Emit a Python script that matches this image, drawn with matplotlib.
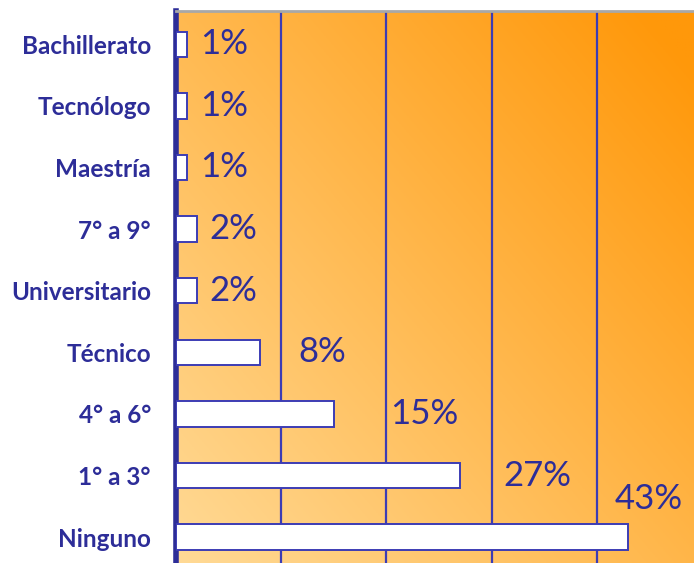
import numpy as np
import matplotlib
matplotlib.use('Agg')
import matplotlib.pyplot as plt

categories = ['Ninguno', '1° a 3°', '4° a 6°', 'Técnico', 'Universitario',
              '7° a 9°', 'Maestría', 'Tecnólogo', 'Bachillerato']
values = [43, 27, 15, 8, 2, 2, 1, 1, 1]
value_labels = ['43%', '27%', '15%', '8%', '2%', '2%', '1%', '1%', '1%']

# label placement (offset from bar end in %, vertical shift in rows)
label_dx = [-1.3, 4.1, 5.4, 3.6, 1.2, 1.2, 1.3, 1.3, 1.3]
label_dy = [0.62, 0, 0, 0, 0, 0, 0, 0, 0]

navy = '#2d2d98'
grid_navy = '#3c3cb4'

fig = plt.figure(figsize=(6.94, 5.63), dpi=100)
ax = fig.add_axes([176 / 694, 0, 518 / 694, 552 / 563])

# diagonal gradient background: light at bottom-left, orange at top-right
nx, ny = 200, 200
gx, gy = np.meshgrid(np.linspace(0, 1, nx), np.linspace(0, 1, ny))
t = np.clip((gx * 0.55 + gy * 0.5), 0, 1)
light = np.array([255, 218, 150]) / 255
dark = np.array([255, 152, 10]) / 255
img = light[None, None, :] * (1 - t[..., None]) + dark[None, None, :] * t[..., None]
ax.imshow(img, extent=[0, 1, 0, 1], transform=ax.transAxes, origin='lower',
          aspect='auto', zorder=0)

y = np.arange(len(categories))
ax.barh(y, values, height=0.41, color='white', edgecolor=grid_navy,
        linewidth=1.4, zorder=3)

for i, (v, lab) in enumerate(zip(values, value_labels)):
    ax.text(v + label_dx[i], y[i] + label_dy[i], lab, va='center', ha='left',
            color=navy, fontsize=25, family='Lato', zorder=4)

ax.set_xlim(0, 49.24)
ax.set_ylim(-0.42, 8.54)
ax.set_xticks([10, 20, 30, 40])
ax.set_xticklabels([])
ax.tick_params(axis='x', length=0)
ax.xaxis.grid(True, color=grid_navy, linewidth=1.6, zorder=1)
ax.set_axisbelow(True)

ax.set_yticks(y)
ax.set_yticklabels(categories, color=navy, fontsize=17.5, family='Lato',
                   fontweight='bold')
ax.tick_params(axis='y', length=0, pad=18)

for s in ['right', 'bottom']:
    ax.spines[s].set_visible(False)
ax.spines['top'].set_color('#a8a8a8')
ax.spines['top'].set_linewidth(2)
ax.spines['left'].set_color(navy)
ax.spines['left'].set_linewidth(4)

fig.savefig('out.png', dpi=100)
